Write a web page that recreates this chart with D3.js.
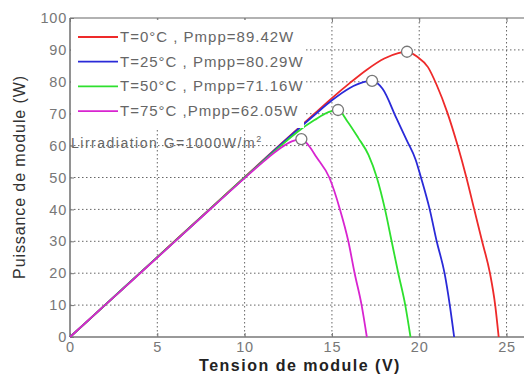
<!DOCTYPE html>
<html>
<head>
<meta charset="utf-8">
<script src="https://cdn.jsdelivr.net/npm/d3@7"></script>
<style>
  html, body { margin: 0; padding: 0; background: #fff; }
  svg { display: block; font-family: "Liberation Sans", Arial, sans-serif; }
</style>
</head>
<body>
<div id="chart"></div>
<script>
// Tick labels
const xTicks = [0, 5, 10, 15, 20, 25];
const yTicks = [0, 10, 20, 30, 40, 50, 60, 70, 80, 90, 100];

// Series names and maximum power points
const seriesNames = ["T=0°C , Pmpp=89.42W", "T=25°C , Pmpp=80.29W", "T=50°C , Pmpp=71.16W", "T=75°C ,Pmpp=62.05W"];
const seriesColors = ["#ee2a2a", "#2a2ad8", "#2ee02e", "#d824d0"];
const mppV = [19.3, 17.3, 15.35, 13.25];
const mppP = [89.42, 80.29, 71.16, 62.05];

// P-V curves: [voltage (V), power (W)]
const curveT0 = [[0, 0], [2, 10], [4, 20], [6, 30.1], [8, 40.1], [10, 50.1], [12, 60.1], [14, 70], [15, 74.9], [16, 79.5], [17, 83.8], [18, 87.3], [18.8, 89], [19.3, 89.42], [19.9, 87.8], [20.5, 84.6], [21, 79], [21.6, 70.5], [22.2, 60], [22.7, 50], [23.15, 40], [23.6, 30], [24.05, 20], [24.35, 10], [24.55, 0]];
const curveT25 = [[0, 0], [2, 10], [4, 20], [6, 30], [8, 40], [10, 50], [12, 60], [14, 69.6], [15, 74.2], [16, 78], [16.8, 79.9], [17.3, 80.29], [17.9, 77.8], [18.7, 68.5], [19.3, 61.5], [19.8, 55.5], [20.1, 50], [20.6, 40], [21, 30], [21.45, 20], [21.75, 10], [22.0, 0]];
const curveT50 = [[0, 0], [2, 10], [4, 20], [6, 30], [8, 40], [10, 50], [12, 59.6], [13, 64.2], [14, 68], [14.8, 70.5], [15.35, 71.16], [15.9, 67.5], [16.5, 62.5], [17.1, 57], [17.57, 50], [18.04, 40], [18.42, 30], [18.8, 20], [19.2, 10], [19.5, 0]];
const curveT75 = [[0, 0], [2, 10], [4, 19.9], [6, 29.9], [8, 39.9], [10, 49.8], [11, 54.6], [12, 59], [12.7, 61.3], [13.25, 62.05], [13.7, 59.8], [14.1, 56.5], [14.85, 50], [15.46, 40], [15.94, 30], [16.3, 20], [16.7, 10], [17.0, 0]];
const curves = [curveT0, curveT25, curveT50, curveT75];

const width = 524, height = 376;
const plotLeft = 70, plotRight = 524, plotTop = 18, plotBottom = 337;

const svg = d3.select("#chart").append("svg")
  .attr("width", width).attr("height", height);

const x = d3.scaleLinear().domain([0, 26]).range([plotLeft, plotRight]);
const y = d3.scaleLinear().domain([0, 100]).range([plotBottom, plotTop]);

// grid
const grid = svg.append("g");
grid.selectAll("line.v").data(xTicks.slice(1)).join("line")
  .attr("x1", d => x(d)).attr("x2", d => x(d))
  .attr("y1", plotTop).attr("y2", plotBottom)
  .attr("stroke", "#666").attr("stroke-width", 1)
  .attr("stroke-dasharray", "1.5,2.5");
grid.selectAll("line.h").data(yTicks.slice(1, -1)).join("line")
  .attr("x1", plotLeft).attr("x2", plotRight)
  .attr("y1", d => y(d)).attr("y2", d => y(d))
  .attr("stroke", "#666").attr("stroke-width", 1)
  .attr("stroke-dasharray", "1.5,2.5");

// axis box
svg.append("line").attr("x1", plotLeft).attr("x2", plotRight).attr("y1", plotTop).attr("y2", plotTop)
  .attr("stroke", "#999").attr("stroke-width", 1.6);
svg.append("line").attr("x1", plotLeft).attr("x2", plotRight).attr("y1", plotBottom).attr("y2", plotBottom)
  .attr("stroke", "#777").attr("stroke-width", 1.6);
svg.append("line").attr("x1", plotLeft).attr("x2", plotLeft).attr("y1", plotTop).attr("y2", plotBottom)
  .attr("stroke", "#777").attr("stroke-width", 1.6);

// axes (ticks pointing inwards)
const xAxis = svg.append("g").attr("transform", `translate(0,${plotBottom})`)
  .call(d3.axisBottom(x).tickValues(xTicks).tickSize(-4).tickPadding(6));
const xAxisTop = svg.append("g").attr("transform", `translate(0,${plotTop})`)
  .call(d3.axisTop(x).tickValues(xTicks).tickSize(-4).tickFormat(""));
const yAxis = svg.append("g").attr("transform", `translate(${plotLeft},0)`)
  .call(d3.axisLeft(y).tickValues(yTicks).tickSize(-4).tickPadding(3));
[xAxis, xAxisTop, yAxis].forEach(g => {
  g.select(".domain").remove();
  g.selectAll(".tick line").attr("stroke", "#777");
  g.selectAll(".tick text").attr("fill", "#777").attr("font-size", 14.5)
    .attr("letter-spacing", 0.8)
    .attr("font-family", "Liberation Sans, Arial, sans-serif");
});
xAxis.selectAll(".tick text").attr("dy", "0.62em");

// curves
const line = d3.line().x(d => x(d[0])).y(d => y(d[1])).curve(d3.curveMonotoneX);
curves.forEach((c, i) => {
  svg.append("path").datum(c)
    .attr("fill", "none")
    .attr("stroke", seriesColors[i])
    .attr("stroke-width", 1.8)
    .attr("d", line);
});

// maximum power point markers
mppV.forEach((v, i) => {
  svg.append("circle")
    .attr("cx", x(v)).attr("cy", y(mppP[i])).attr("r", 5.5)
    .attr("fill", "#fff").attr("stroke", "#777").attr("stroke-width", 1.3);
});

// legend (white box, no border)
const legend = svg.append("g");
legend.append("rect").attr("x", plotLeft + 1).attr("y", plotTop + 2)
  .attr("width", 233).attr("height", 108).attr("fill", "#fff");
seriesNames.forEach((name, i) => {
  const ly = 37 + i * 24.7;
  legend.append("line").attr("x1", 78).attr("x2", 118).attr("y1", ly).attr("y2", ly)
    .attr("stroke", seriesColors[i]).attr("stroke-width", 1.8);
  legend.append("text").attr("x", 120).attr("y", ly + 5)
    .attr("fill", "#666").attr("font-size", 15).attr("letter-spacing", 1)
    .text(name);
});

// irradiation note
const note = svg.append("text").attr("x", 71).attr("y", 148)
  .attr("fill", "#666").attr("font-size", 14).attr("letter-spacing", 1.5);
note.append("tspan").text("Lirradiation G=1000W/m");
note.append("tspan").attr("dy", -6).attr("font-size", 9).text("2");

// axis titles
svg.append("text").attr("x", 300).attr("y", 371)
  .attr("text-anchor", "middle").attr("fill", "#222")
  .attr("font-size", 16).attr("font-weight", "bold").attr("letter-spacing", 1.5)
  .text("Tension de module (V)");
svg.append("text")
  .attr("transform", `translate(25,177) rotate(-90)`)
  .attr("text-anchor", "middle").attr("fill", "#333")
  .attr("font-size", 16).attr("letter-spacing", 0.9)
  .text("Puissance  de  module (W)");
</script>
</body>
</html>
